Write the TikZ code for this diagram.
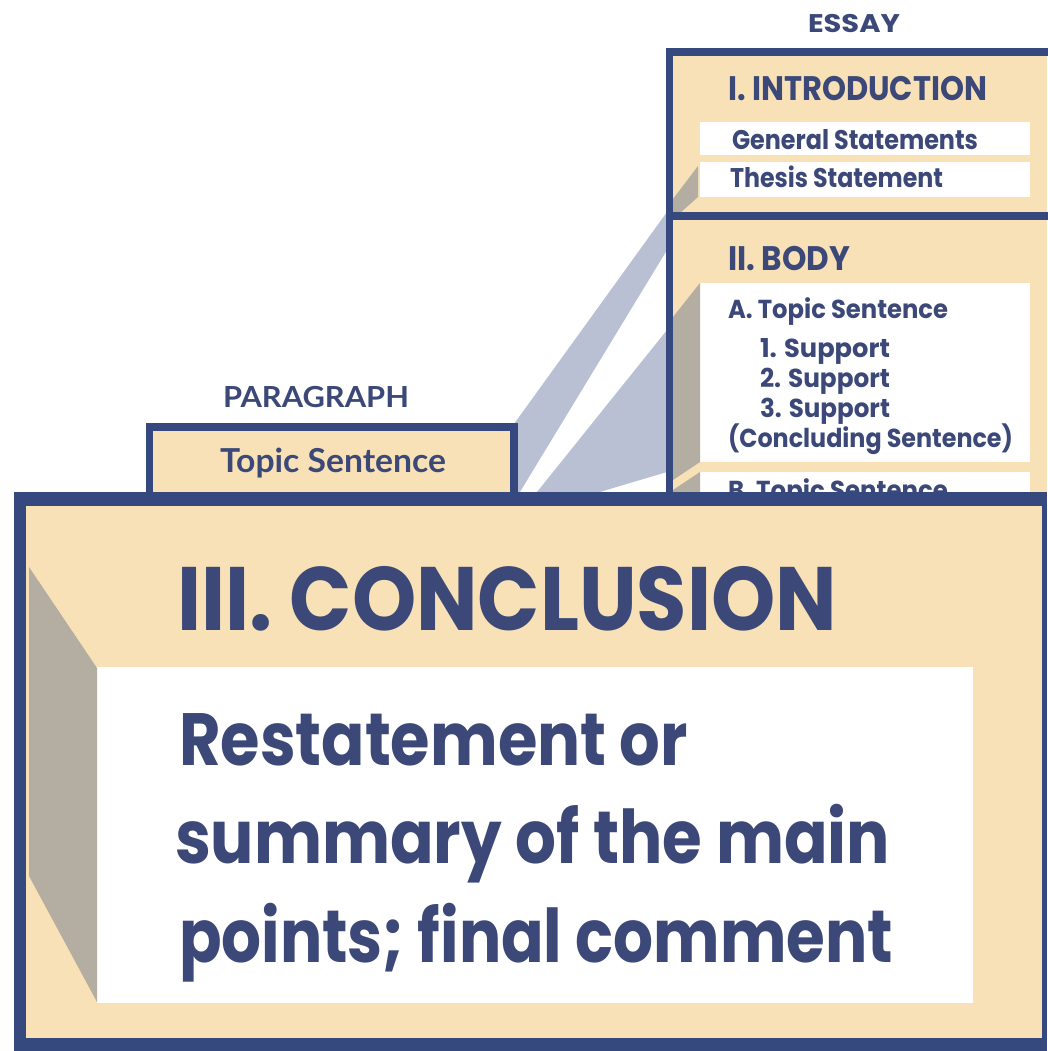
\documentclass[tikz,border=0pt]{standalone}
\usepackage{fontspec}
\usepackage{graphicx}
\setmainfont{Poppins}
\newfontfamily\parafont{Lato}
\definecolor{navy}{HTML}{36497E}
\definecolor{txt}{HTML}{3B4878}
\definecolor{beige}{HTML}{F8E1B7}
\definecolor{bevel}{HTML}{B4ADA1}
\definecolor{band}{HTML}{B9C0D4}
\newcommand{\fitw}[2]{\resizebox{#1pt}{\height}{#2}}
\tikzset{
  lbl/.style={anchor=base west, inner sep=0pt, outer sep=0pt, text=txt,
    font=\fontsize{#1}{#1}\selectfont\bfseries},
  plbl/.style={anchor=base west, inner sep=0pt, outer sep=0pt, text=txt,
    font=\parafont\fontsize{#1}{#1}\selectfont\bfseries},
  border/.style={draw=navy, line width=7.5pt},
}
\begin{document}
\begin{tikzpicture}[x=1pt,y=-1pt]
\fill[white] (0,0) rectangle (1047,1051);
\useasboundingbox (0,0) rectangle (1047,1051);
% connecting bands
\fill[band] (514,424) -- (667,212) -- (667,250) -- (512,505) -- cycle;
\fill[band] (526.6,505) -- (667,330) -- (667,472) -- (556,505) -- cycle;
% paragraph
\node[plbl=29] (paratitle) at (223,407) {\fitw{186}{PARAGRAPH}};
\draw[border, fill=beige] (149.5,427) rectangle (514,560);
\node[plbl=33] (paratopic) at (220,472) {\fitw{226}{Topic Sentence}};
% essay
\node[lbl=25.5, anchor=base] (essaytitle) at (854,33) {\fitw{92}{ESSAY}};
\fill[beige] (669,52) rectangle (1047,505);
\fill[white] (700,122) rectangle (1030,155);
\fill[white] (700,162) rectangle (1030,197);
\fill[white] (700,283) rectangle (1030,462);
\fill[white] (700,472) rectangle (1030,505);
\fill[bevel] (698,166) -- (698,197) -- (680,213) -- (673,213) -- (673,199) -- cycle;
\fill[bevel] (700,283) -- (700,462) -- (673,480) -- (673,317) -- cycle;
\fill[bevel] (700,472) -- (700,505) -- (673,505) -- (673,490) -- cycle;
\draw[border] (1050,52) -- (669.5,52) -- (669.5,510);
\draw[border] (669.5,216) -- (1050,216);
\node[lbl=34] (intro) at (728,101) {\fitw{259}{I. INTRODUCTION}};
\node[lbl=27] (general) at (732,150) {\fitw{246}{General Statements}};
\node[lbl=27] (thesis) at (730,187) {\fitw{213}{Thesis Statement}};
\node[lbl=34] (body) at (728,270) {\fitw{122}{II. BODY}};
\node[lbl=26] (topicA) at (728,318) {\fitw{220}{A. Topic Sentence}};
\node[lbl=26] (sup1) at (760,357) {\fitw{130}{1. Support}};
\node[lbl=26] (sup2) at (760,387) {\fitw{130}{2. Support}};
\node[lbl=26] (sup3) at (760,417) {\fitw{130}{3. Support}};
\node[lbl=26] (concl) at (728,447) {\fitw{285}{(Concluding Sentence)}};
\node[lbl=26] (topicB) at (728,499) {\fitw{220}{B. Topic Sentence}};
% conclusion box
\fill[navy] (14,492) rectangle (1047,1051);
\fill[beige] (26,506) rectangle (1042,1038);
\fill[white] (97,667) rectangle (973,1003);
\fill[bevel] (29,567) -- (97,668) -- (97,1002) -- (29,876) -- cycle;
\node[lbl=90] (conctitle) at (177,630) {\fitw{660}{III. CONCLUSION}};
\node[lbl=74] (line1) at (179,765) {\fitw{509}{Restatement or}};
\node[lbl=74] (line2) at (175,863) {\fitw{715}{summary of the main}};
\node[lbl=74] (line3) at (179,962) {\fitw{714}{points; final comment}};
\end{tikzpicture}
\end{document}
